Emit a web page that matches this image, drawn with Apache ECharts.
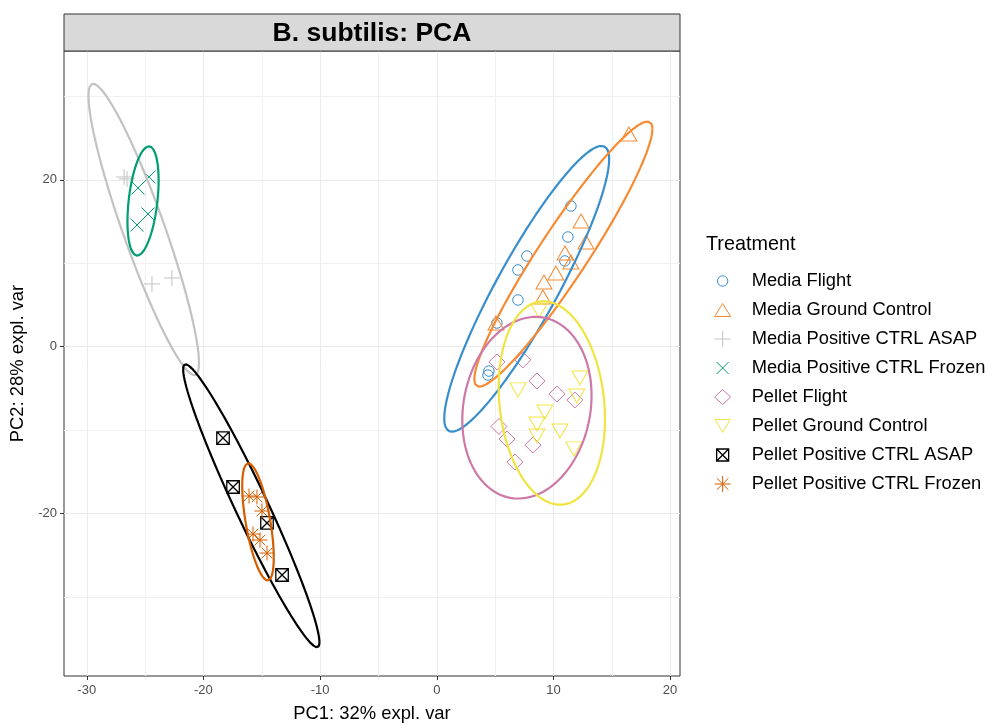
<!DOCTYPE html>
<html>
<head>
<meta charset="utf-8">
<script src="https://cdn.jsdelivr.net/npm/echarts@6/dist/echarts.min.js"></script>
<style>
  html, body { margin: 0; padding: 0; background: #ffffff; }
  #chart { width: 988px; height: 724px; }
</style>
</head>
<body>
<div id="chart"></div>
<script>
// Treatment groups and their sample scores on the first two principal components
const groups = [
  'Media Flight',
  'Media Ground Control',
  'Media Positive CTRL ASAP',
  'Media Positive CTRL Frozen',
  'Pellet Flight',
  'Pellet Ground Control',
  'Pellet Positive CTRL ASAP',
  'Pellet Positive CTRL Frozen'
];

const mediaFlightPC1 = [11.5, 11.24, 7.73, 6.96, 10.98, 6.96, 5.16, 4.47, 4.39];
const mediaFlightPC2 = [16.87, 13.15, 10.87, 9.2, 10.28, 5.6, 2.84, -2.92, -3.4];

const mediaGroundPC1 = [16.47, 12.37, 12.79, 10.99, 11.5, 10.21, 9.19, 9.1, 5.07];
const mediaGroundPC2 = [25.5, 15.07, 12.55, 11.23, 10.16, 8.84, 7.76, 5.96, 2.84];

const mediaAsapPC1 = [-26.8, -26.55, -24.41, -22.7];
const mediaAsapPC2 = [20.35, 20.11, 7.52, 8.24];

const mediaFrozenPC1 = [-24.66, -25.6, -24.75, -25.69];
const mediaFrozenPC2 = [20.35, 19.03, 15.91, 14.59];

const pelletFlightPC1 = [5.16, 7.38, 8.59, 10.3, 11.84, 5.33, 6.02, 8.24, 6.7];
const pelletFlightPC2 = [-1.83, -1.59, -4.11, -5.68, -6.39, -9.56, -11.07, -11.79, -13.83];

const pelletGroundPC1 = [8.76, 6.96, 12.27, 12.01, 9.27, 8.59, 10.56, 8.59, 11.76];
const pelletGroundPC2 = [4.28, -5.18, -3.75, -5.91, -7.83, -9.27, -10.11, -10.71, -12.25];

const pelletAsapPC1 = [-18.32, -17.46, -14.55, -13.26];
const pelletAsapPC2 = [-10.95, -16.82, -21.13, -27.37];

const pelletFrozenPC1 = [-16.09, -15.41, -14.98, -15.75, -15.15, -14.55];
const pelletFrozenPC2 = [-17.9, -18.02, -19.7, -22.46, -23.18, -24.74];

const groupPC1 = [mediaFlightPC1, mediaGroundPC1, mediaAsapPC1, mediaFrozenPC1,
                  pelletFlightPC1, pelletGroundPC1, pelletAsapPC1, pelletFrozenPC1];
const groupPC2 = [mediaFlightPC2, mediaGroundPC2, mediaAsapPC2, mediaFrozenPC2,
                  pelletFlightPC2, pelletGroundPC2, pelletAsapPC2, pelletFrozenPC2];

// Axis ticks
const xTicks = [-30, -20, -10, 0, 10, 20];
const xMinorTicks = [-25, -15, -5, 5, 15];
const yTicks = [-20, 0, 20];
const yMinorTicks = [-30, -10, 10, 30];

// Styling
const colors = ['#388ECC', '#F68B33', '#C2C2C2', '#009E73', '#CC79A7', '#F0E442', '#000000', '#D55E00'];
const symbols = [
  'circle',
  'triangle',
  'path://M0,7.5L15,7.5M7.5,0L7.5,15',
  'path://M0,0L12,12M12,0L0,12',
  'diamond',
  'path://M0,0L15,0L7.5,13Z',
  'path://M0,0L12,0L12,12L0,12ZM0,0L12,12M12,0L0,12',
  'path://M7,0L7,14M0,7L14,7M2,2L12,12M12,2L2,12'
];
const symbolSizes = [10.5, [16, 14], 16, 13, [16, 16], [16, 14], 12.5, 15];
const strokeWidths = [1, 1, 1, 1, 1, 1, 1.3, 1];

// Legend keys drawn in a shared 16x16 box so each keeps its own size
const legendIcons = [
  'path://M0,0M16,16M2.8,8A5.2,5.2,0,1,1,13.2,8A5.2,5.2,0,1,1,2.8,8Z',
  'path://M0,0M16,16M8,1.5L16,14.5L0,14.5Z',
  'path://M0,0M16,16M0,8L16,8M8,0L8,16',
  'path://M0,0M16,16M2,2L14,14M14,2L2,14',
  'path://M0,0M16,16M8,0.5L16,8L8,15.5L0,8Z',
  'path://M0,0M16,16M0.5,1.5L15.5,1.5L8,14.5Z',
  'path://M0,0M16,16M2,2L14,2L14,14L2,14ZM2,2L14,14M14,2L2,14',
  'path://M0,0M16,16M8,0L8,16M0,8L16,8M2.3,2.3L13.7,13.7M13.7,2.3L2.3,13.7'
];

const FONT = "'Liberation Sans', Arial, sans-serif";

// 95% confidence ellipse from the sample covariance of a group
function confidenceEllipse(xs, ys, level, n) {
  const m = xs.length;
  const mx = xs.reduce((a, b) => a + b, 0) / m;
  const my = ys.reduce((a, b) => a + b, 0) / m;
  let sxx = 0, syy = 0, sxy = 0;
  for (let i = 0; i < m; i++) {
    const dx = xs[i] - mx, dy = ys[i] - my;
    sxx += dx * dx; syy += dy * dy; sxy += dx * dy;
  }
  sxx /= (m - 1); syy /= (m - 1); sxy /= (m - 1);
  const t = Math.sqrt(-2 * Math.log(1 - level));
  const l11 = Math.sqrt(sxx);
  const l21 = sxy / l11;
  const l22 = Math.sqrt(Math.max(syy - l21 * l21, 0));
  const pts = [];
  for (let k = 0; k <= n; k++) {
    const a = 2 * Math.PI * k / n;
    const c = Math.cos(a), s = Math.sin(a);
    pts.push([mx + t * l11 * c, my + t * (l21 * c + l22 * s)]);
  }
  return pts;
}

const PANEL = { left: 64, right: 680, top: 51, bottom: 676 };

const scatterSeries = groups.map((g, i) => ({
  name: g,
  type: 'scatter',
  xAxisIndex: 0,
  yAxisIndex: 0,
  data: groupPC1[i].map((x, j) => [x, groupPC2[i][j]]),
  symbol: symbols[i],
  symbolSize: symbolSizes[i],
  itemStyle: { color: 'rgba(0,0,0,0)', borderColor: colors[i], borderWidth: strokeWidths[i], opacity: 1 },
  emphasis: { disabled: true },
  z: 3
}));

const ellipseSeries = groups.map((g, i) => ({
  name: g + ' ellipse',
  type: 'line',
  xAxisIndex: 0,
  yAxisIndex: 0,
  data: confidenceEllipse(groupPC1[i], groupPC2[i], 0.95, 120),
  showSymbol: false,
  symbol: 'none',
  smooth: false,
  lineStyle: { color: colors[i], width: 2.2 },
  emphasis: { disabled: true },
  silent: true,
  z: 4
}));

const chart = echarts.init(document.getElementById('chart'), null, { renderer: 'canvas' });

chart.setOption({
  animation: false,
  backgroundColor: '#ffffff',
  textStyle: { fontFamily: FONT },
  grid: {
    left: PANEL.left,
    top: PANEL.top,
    width: PANEL.right - PANEL.left,
    height: PANEL.bottom - PANEL.top,
    show: true,
    borderColor: '#333333',
    borderWidth: 1,
    backgroundColor: '#ffffff',
    containLabel: false,
    outerBoundsMode: 'none'
  },
  xAxis: [
    {
      type: 'value',
      gridIndex: 0,
      position: 'bottom',
      min: -31.95,
      max: 20.85,
      name: 'PC1: 32% expl. var',
      nameLocation: 'middle',
      nameGap: 29,
      nameTextStyle: { fontSize: 18.4, color: '#000000', fontFamily: FONT },
      axisLine: { show: false, onZero: false },
      axisTick: { show: true, inside: false, length: 4, customValues: xTicks, lineStyle: { color: '#333333', width: 1 } },
      axisLabel: { show: true, customValues: xTicks, color: '#4D4D4D', fontSize: 13, margin: 8, fontFamily: FONT },
      splitLine: { show: true, lineStyle: { color: '#EBEBEB', width: 1 } }
    },
    {
      type: 'value',
      gridIndex: 0,
      position: 'top',
      min: -31.95,
      max: 20.85,
      axisLine: { show: false, onZero: false },
      axisTick: { show: false, customValues: xMinorTicks },
      axisLabel: { show: false, customValues: xMinorTicks },
      splitLine: { show: true, lineStyle: { color: '#F0F0F0', width: 1 } }
    }
  ],
  yAxis: [
    {
      type: 'value',
      gridIndex: 0,
      position: 'left',
      min: -39.48,
      max: 35.45,
      name: 'PC2: 28% expl. var',
      nameLocation: 'middle',
      nameGap: 37,
      nameRotate: 90,
      nameTextStyle: { fontSize: 18.4, color: '#000000', fontFamily: FONT },
      axisLine: { show: false, onZero: false },
      axisTick: { show: true, inside: false, length: 4, customValues: yTicks, lineStyle: { color: '#333333', width: 1 } },
      axisLabel: { show: true, customValues: yTicks, color: '#4D4D4D', fontSize: 13, margin: 7, fontFamily: FONT },
      splitLine: { show: true, lineStyle: { color: '#EBEBEB', width: 1 } }
    },
    {
      type: 'value',
      gridIndex: 0,
      position: 'right',
      min: -39.48,
      max: 35.45,
      axisLine: { show: false, onZero: false },
      axisTick: { show: false, customValues: yMinorTicks },
      axisLabel: { show: false, customValues: yMinorTicks },
      splitLine: { show: true, lineStyle: { color: '#F0F0F0', width: 1 } }
    }
  ],
  legend: {
    show: true,
    orient: 'vertical',
    left: 709,
    top: 267,
    itemWidth: 42,
    itemHeight: 16,
    itemGap: 11,
    selectedMode: false,
    symbolKeepAspect: true,
    textStyle: { fontSize: 18.3, color: '#000000', fontFamily: FONT, padding: [0, 0, 0, 3] },
    data: groups.map((g, i) => ({
      name: g,
      icon: legendIcons[i],
      itemStyle: { color: 'rgba(0,0,0,0)', borderColor: colors[i], borderWidth: strokeWidths[i] }
    }))
  },
  graphic: [
    {
      type: 'rect',
      shape: { x: PANEL.left, y: 14, width: PANEL.right - PANEL.left, height: PANEL.top - 14 },
      style: { fill: '#D9D9D9', stroke: '#333333', lineWidth: 1 },
      z: 10
    },
    {
      type: 'text',
      x: (PANEL.left + PANEL.right) / 2,
      y: (14 + PANEL.top) / 2 + 1.5,
      style: {
        text: 'B. subtilis: PCA',
        fontSize: 26.5,
        fontWeight: 'bold',
        fontFamily: FONT,
        fill: '#000000',
        align: 'center',
        verticalAlign: 'middle'
      },
      z: 11
    },
    {
      type: 'text',
      x: 706,
      y: 245,
      style: {
        text: 'Treatment',
        fontSize: 19.8,
        fontFamily: FONT,
        fill: '#000000',
        align: 'left',
        verticalAlign: 'middle'
      },
      z: 11
    }
  ],
  series: scatterSeries.concat(ellipseSeries)
});
</script>
</body>
</html>
